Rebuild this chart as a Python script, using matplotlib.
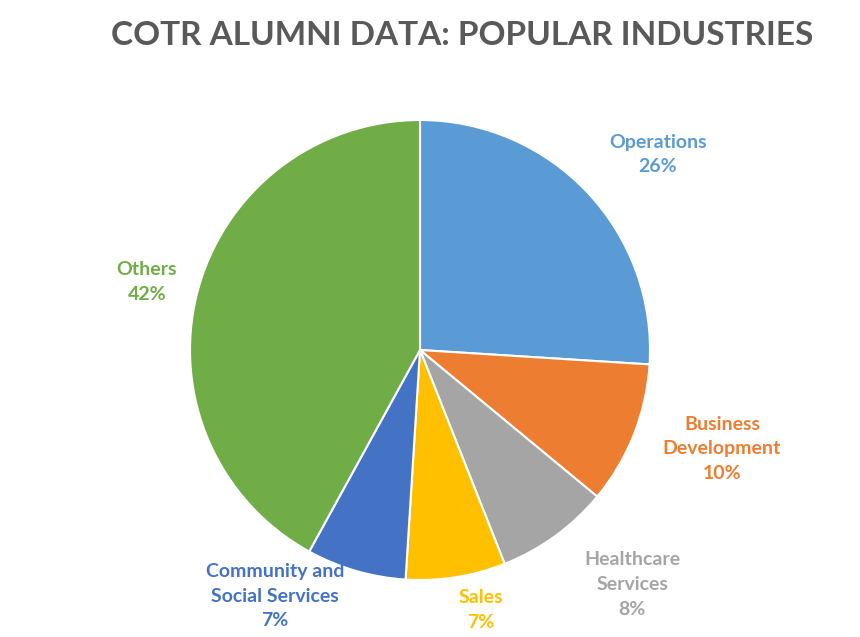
import matplotlib
matplotlib.use('Agg')
import matplotlib.pyplot as plt

labels = ['Operations', 'Business\nDevelopment', 'Healthcare\nServices', 'Sales',
          'Community and\nSocial Services', 'Others']
values = [26, 10, 8, 7, 7, 42]
colors = ['#5B9BD5', '#ED7D31', '#A5A5A5', '#FFC000', '#4472C4', '#70AD47']
# label anchor points in pie-radius units
label_pos = [(1.035, 0.85), (1.313, -0.43), (0.922, -1.02), (0.265, -1.13),
             (-0.63, -1.07), (-1.187, 0.296)]

plt.rcParams['font.family'] = ['Lato', 'DejaVu Sans']

fig = plt.figure(figsize=(8.6, 6.37), dpi=100)
ax = fig.add_axes([0, 0, 1, 1])
ax.pie(values, colors=colors, startangle=90, counterclock=False, radius=1,
       wedgeprops=dict(edgecolor='white', linewidth=1.5))
ax.set_xlim(-420 / 230, 440 / 230)
ax.set_ylim(-287 / 230, 350 / 230)
ax.set_aspect('equal')
ax.axis('off')

for lab, v, c, (x, y) in zip(labels, values, colors, label_pos):
    ax.text(x, y, f'{lab}\n{v}%', color=c, fontsize=14, fontweight='bold',
            ha='center', va='center', linespacing=1.55)

fig.text(0.537, 0.945, 'COTR ALUMNI DATA: POPULAR INDUSTRIES', ha='center', va='center',
         fontsize=24, fontweight='bold', color='#595959')

fig.savefig('out.png', dpi=100)
